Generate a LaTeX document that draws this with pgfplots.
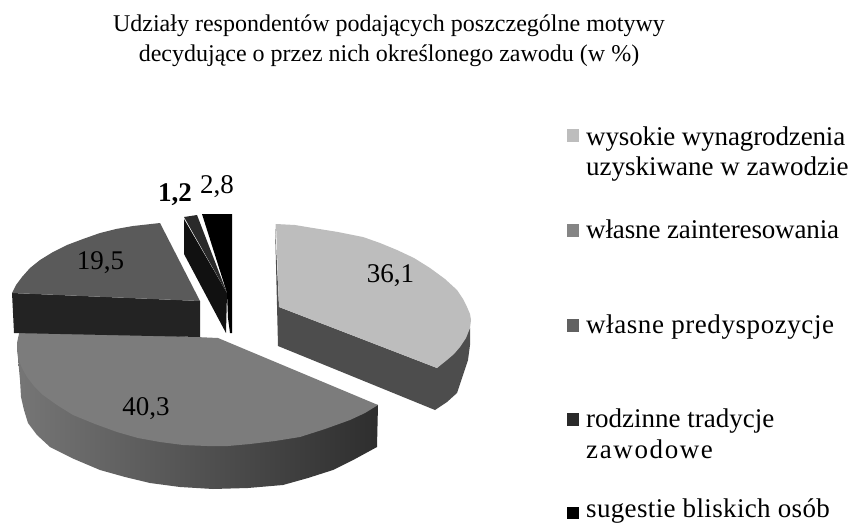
\documentclass[border=0pt]{standalone}
\usepackage{fontspec}
\setmainfont{Liberation Serif}
\usepackage{pgfplots}
\pgfplotsset{compat=1.18}

\definecolor{lightgr}{HTML}{BDBDBD}
\definecolor{lightside}{HTML}{4D4D4D}
\definecolor{biggr}{HTML}{7C7C7C}
\definecolor{midgr}{HTML}{5A5A5A}
\definecolor{midside}{HTML}{232323}
\definecolor{darkgr}{HTML}{2A2A2A}
\definecolor{darkside}{HTML}{111111}

\newcommand{\lab}{\fontsize{27}{27}\selectfont}
\newcommand{\leg}[1]{\fontsize{27}{27}\selectfont\addfontfeature{LetterSpace=#1}}

\begin{document}
\begin{tikzpicture}
\useasboundingbox (0,0) rectangle (848pt,524pt);
\begin{axis}[
  at={(0,0)}, anchor=south west,
  width=848pt, height=524pt, scale only axis,
  xmin=0, xmax=848, ymin=0, ymax=524, y dir=reverse,
  axis lines=none, clip=false,
  every axis plot/.append style={draw=none, no markers},
  nodes={inner sep=0pt},
]
% 36,1 side and top
\addplot[fill=lightside] coordinates {(275,224)(279,307)(437,368)(470,328)(470,345)(468,360)(462,378)(457,393)(447,402)(435,410)(278,346)};
\addplot[fill=lightgr] coordinates {(276,224)(295,225)(313,228)(338,232)(363,237)(380,243)(397,250)(414,258)(430,268)(445,279)(457,290)(463,299)(467,307)(470,314)(471,320)(470,328)(466,338)(460,347)(454,354)(447,360)(437,368)(279,307)};
% 40,3 side and top
\addplot[left color=biggr!95!black, middle color=black!72, right color=black!82] coordinates {(378,405)(377,447)(355,459)(333,470)(308,478)(283,485)(248,488)(213,489)(180,487)(150,483)(125,477)(100,470)(74,459)(50,447)(37,435)(28,423)(24,410)(21,397)(20,380)(18,358)};
\addplot[fill=biggr] coordinates {(20,329)(218,338)(378,405)(365,413)(350,420)(325,429)(300,437)(275,441)(250,444)(228,446)(207,446)(183,445)(160,442)(138,438)(117,432)(95,424)(73,415)(57,405)(43,395)(34,386)(27,377)(22,368)(18,358)(17,350)(17,343)};
% 19,5 side and top
\addplot[fill=midside] coordinates {(12,293)(200,301)(200,337)(14,333)};
\addplot[fill=midgr] coordinates {(160,223)(133,226)(116,229)(100,233)(83,239)(67,245)(53,252)(40,260)(30,268)(22,277)(16,285)(12,293)(200,301)};
% 1,2
\addplot[fill=darkside] coordinates {(184,219)(227,293)(226,333)(184,254)};
\addplot[fill=darkgr] coordinates {(184,217)(197,215)(227,293)};
% 2,8
\addplot[fill=black] coordinates {(202,214)(232,214)(232,333)(230,333)(228,318)(227,293)};
% legend keys
\addplot[fill=lightgr] coordinates {(567,129)(579,129)(579,142)(567,142)};
\addplot[fill=black!48] coordinates {(567,224)(579,224)(579,237)(567,237)};
\addplot[fill=black!62] coordinates {(567,319)(579,319)(579,332)(567,332)};
\addplot[fill=darkgr] coordinates {(567,413)(579,413)(579,426)(567,426)};
\addplot[fill=black] coordinates {(567,507)(579,507)(579,519)(567,519)};
% title
\node[anchor=base, font=\fontsize{24}{24}\selectfont] at (axis cs:389,32)
  {Udziały respondentów podających poszczególne motywy};
\node[anchor=base, font=\fontsize{24}{24}\selectfont] at (axis cs:389,62)
  {decydujące o przez nich określonego zawodu (w \%)};
% values
\node[anchor=base, font=\lab] at (axis cs:390.5,282) {36,1};
\node[anchor=base, font=\lab] at (axis cs:146,415) {40,3};
\node[anchor=base, font=\lab] at (axis cs:100.5,269) {19,5};
\node[anchor=base, font=\lab] at (axis cs:175,201) {\textbf{1,2}};
\node[anchor=base, font=\lab] at (axis cs:217,193) {2,8};
% legend text
\node[anchor=base west, font=\leg{-0.5}] at (axis cs:586,145) {wysokie wynagrodzenia};
\node[anchor=base west, font=\leg{0}] at (axis cs:586,175) {uzyskiwane w zawodzie};
\node[anchor=base west, font=\leg{-0.5}] at (axis cs:586,238) {własne zainteresowania};
\node[anchor=base west, font=\leg{2.1}] at (axis cs:586,333) {własne predyspozycje};
\node[anchor=base west, font=\leg{0}] at (axis cs:586,427) {rodzinne tradycje};
\node[anchor=base west, font=\leg{6}] at (axis cs:586,458) {zawodowe};
\node[anchor=base west, font=\leg{1.3}] at (axis cs:586,517.5) {sugestie bliskich osób};
\end{axis}
\end{tikzpicture}
\end{document}
